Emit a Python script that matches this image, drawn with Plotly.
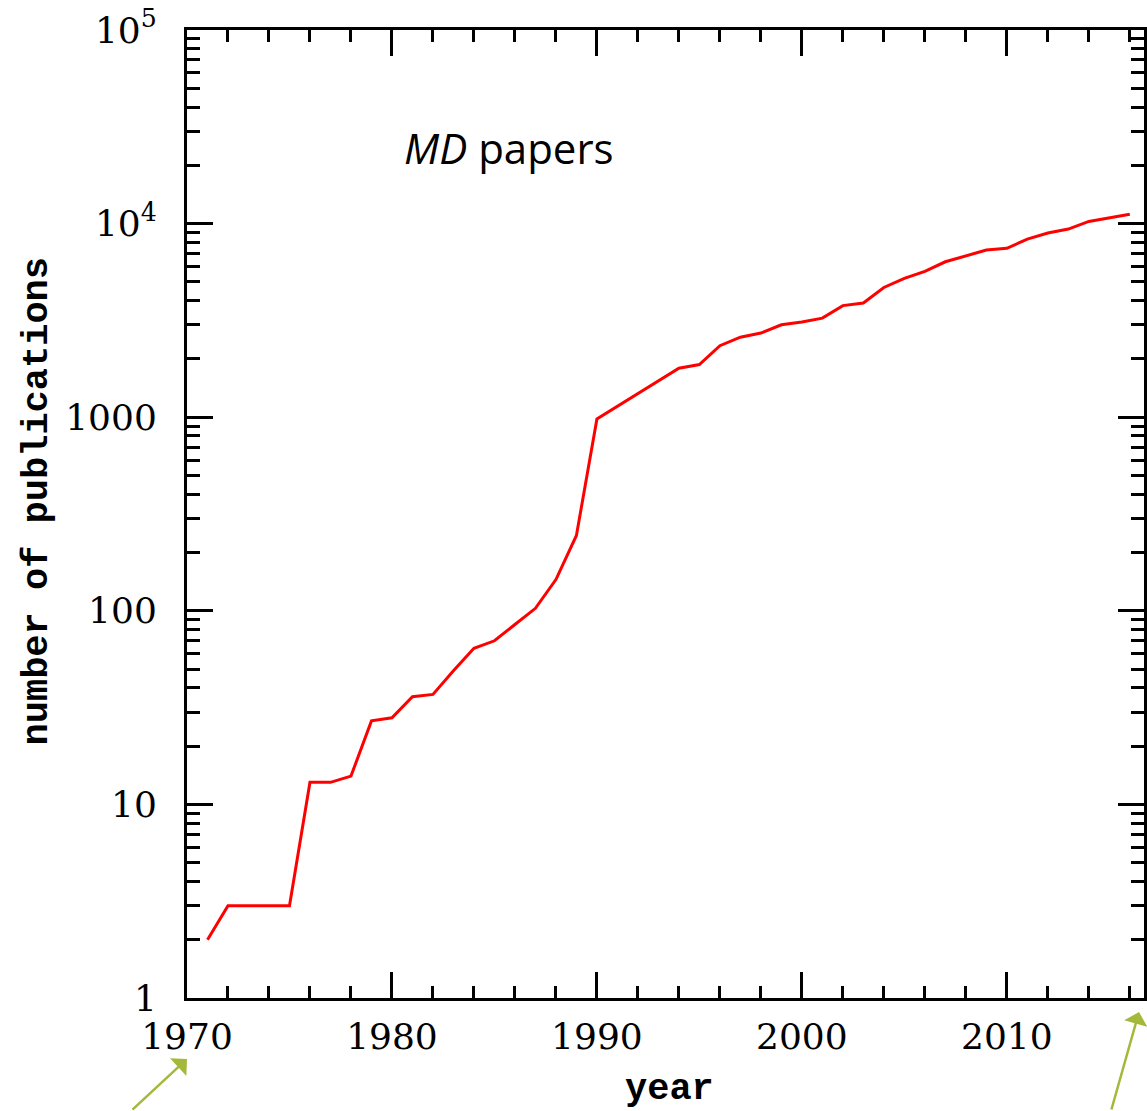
import plotly.graph_objects as go

# Yearly count of molecular-dynamics publications
years = [1971, 1972, 1973, 1974, 1975, 1976, 1977, 1978, 1979, 1980,
         1981, 1982, 1983, 1984, 1985, 1986, 1987, 1988, 1989, 1990,
         1994, 1995, 1996, 1997, 1998, 1999, 2000, 2001, 2002, 2003,
         2004, 2005, 2006, 2007, 2008, 2009, 2010, 2011, 2012, 2013,
         2014, 2015, 2016]
papers = [2, 3, 3, 3, 3, 13, 13, 14, 27, 28,
          36, 37, 49, 64, 70, 85, 103, 145, 245, 980,
          1790, 1870, 2340, 2590, 2720, 3000, 3100, 3250, 3770, 3890,
          4680, 5210, 5660, 6350, 6820, 7300, 7450, 8320, 8940, 9370,
          10260, 10760, 11190]

# Axis ticks
x_major = [1970, 1980, 1990, 2000, 2010]
x_minor = [1972, 1974, 1976, 1978, 1982, 1984, 1986, 1988, 1992, 1994,
           1996, 1998, 2002, 2004, 2006, 2008, 2012, 2014, 2016]
y_major = [1, 10, 100, 1000, 10000, 100000]
y_labels = ["1", "10", "100", "1000", "10<sup>4</sup>", "10<sup>5</sup>"]
y_minor = [m * 10 ** e for e in range(5) for m in range(2, 10)]

W, H = 1147, 1111
L, R, T, B = 187, 0, 30, 113
PW, PH = W - L - R, H - T - B
PX_PER_YEAR = 20.56
x_end = 1970 + PW / PX_PER_YEAR

tick_font = dict(family="DejaVu Serif", size=36, color="black")
title_font = dict(family="Liberation Mono", size=37, color="black",
                  weight="bold")
arrow_color = "#a4b93a"

fig = go.Figure()
fig.add_trace(go.Scatter(
    x=years, y=papers, mode="lines",
    line=dict(color="#ff0000", width=3),
    showlegend=False, hoverinfo="x+y",
))

fig.update_xaxes(
    range=[1970, x_end],
    showgrid=False, zeroline=False,
    showline=True, linecolor="black", linewidth=3, mirror="allticks",
    tickmode="array", tickvals=x_major, ticktext=[str(v) for v in x_major],
    ticks="inside", ticklen=26, tickwidth=3, tickcolor="black",
    tickfont=tick_font, ticklabelstandoff=5,
    minor=dict(tickmode="array", tickvals=x_minor, ticks="inside",
               ticklen=12, tickwidth=3, tickcolor="black", showgrid=False),
)
fig.update_yaxes(
    type="log", range=[0, 5],
    showgrid=False, zeroline=False,
    showline=True, linecolor="black", linewidth=3, mirror="allticks",
    tickmode="array", tickvals=y_major, ticktext=y_labels,
    ticks="inside", ticklen=26, tickwidth=3, tickcolor="black",
    tickfont=tick_font, ticklabelstandoff=20,
    minor=dict(tickmode="array", tickvals=y_minor, ticks="inside",
               ticklen=13, tickwidth=3, tickcolor="black", showgrid=False),
)


def px_x(px):
    return (px - L) / PW


def px_y(py):
    return (H - B - py) / PH


annotations = [
    dict(text="<i>MD</i> papers", x=px_x(403), y=px_y(147),
         xref="paper", yref="paper", xanchor="left", yanchor="middle",
         showarrow=False,
         font=dict(family="Open Sans", size=42, color="black")),
    dict(text="number of publications", x=px_x(37), y=px_y(501),
         xref="paper", yref="paper", xanchor="center", yanchor="middle",
         textangle=-90, showarrow=False, font=title_font),
    dict(text="year", x=px_x(671), y=px_y(1089),
         xref="paper", yref="paper", xanchor="center", yanchor="middle",
         showarrow=False, font=title_font),
    # arrows pointing at the first and last year of the record
    dict(text="", x=px_x(187), y=px_y(1059), xref="paper", yref="paper",
         ax=-56, ay=64, axref="pixel", ayref="pixel",
         showarrow=True, arrowhead=1, arrowsize=1.6, arrowwidth=2.5,
         arrowcolor=arrow_color, standoff=0),
    dict(text="", x=px_x(1142), y=px_y(1012), xref="paper", yref="paper",
         ax=-28, ay=114, axref="pixel", ayref="pixel",
         showarrow=True, arrowhead=1, arrowsize=1.6, arrowwidth=2.5,
         arrowcolor=arrow_color, standoff=0),
]

fig.update_layout(
    width=W, height=H,
    margin=dict(l=L, r=R, t=T, b=B, pad=0),
    paper_bgcolor="white", plot_bgcolor="white",
    annotations=annotations,
    showlegend=False,
)

fig.write_html("out.html")
